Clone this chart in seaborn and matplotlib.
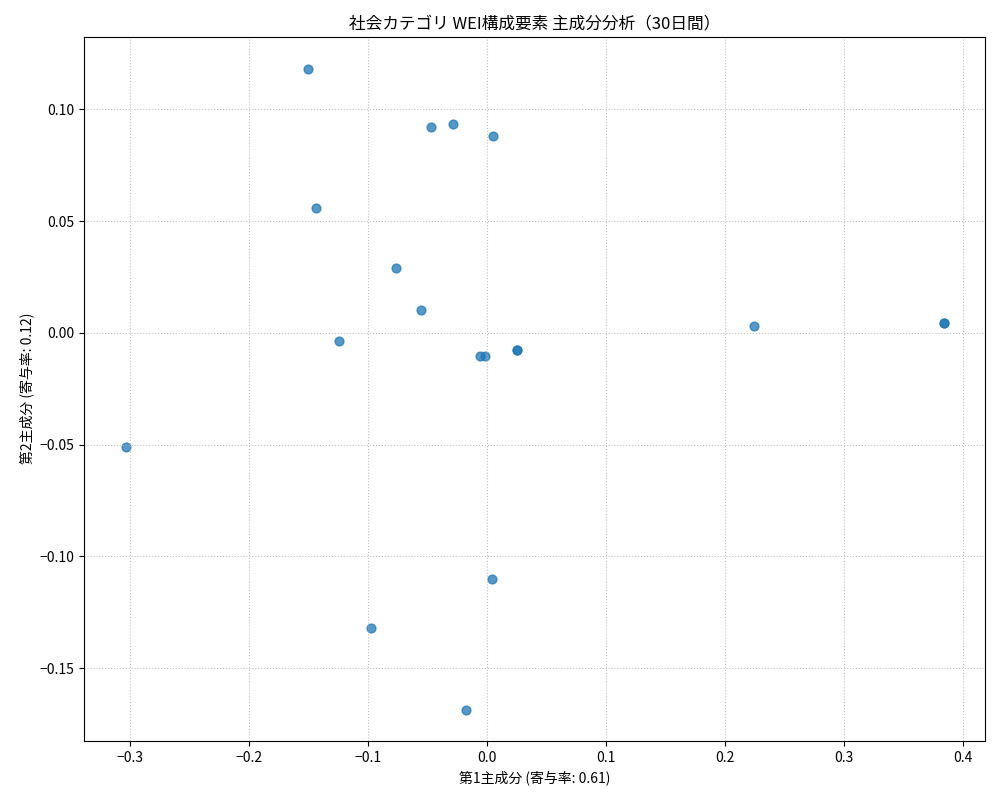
import matplotlib
matplotlib.use("Agg")
import matplotlib.pyplot as plt
import seaborn as sns
import pandas as pd

plt.rcParams['font.family'] = ['Noto Sans CJK JP', 'DejaVu Sans']

# PCA scores
pc1 = [-0.151, -0.047, -0.029, 0.005, -0.144, -0.077, -0.056, -0.125,
       -0.006, -0.002, 0.025, 0.025, 0.224, 0.384, 0.384, -0.304,
       0.004, -0.098, -0.018]
pc2 = [0.118, 0.092, 0.0935, 0.088, 0.056, 0.029, 0.010, -0.0036,
       -0.0103, -0.0103, -0.0077, -0.0077, 0.003, 0.0045, 0.0045, -0.051,
       -0.110, -0.132, -0.1685]

df = pd.DataFrame({'pc1': pc1, 'pc2': pc2})

fig, ax = plt.subplots(figsize=(10, 8), dpi=100)
sns.scatterplot(data=df, x='pc1', y='pc2', ax=ax, color='#1f77b4',
                alpha=0.75, s=40, linewidth=1, edgecolor='#1f77b4')
ax.grid(True, linestyle=':', color='#b0b0b0', alpha=0.8)
ax.set_xlim(-0.339, 0.4185)
ax.set_ylim(-0.1825, 0.1324)
ax.set_title('社会カテゴリ WEI構成要素 主成分分析（30日間）', fontsize=12)
ax.set_xlabel('第1主成分 (寄与率: 0.61)')
ax.set_ylabel('第2主成分 (寄与率: 0.12)')
plt.subplots_adjust(left=0.084, right=0.985, top=0.954, bottom=0.074)
plt.savefig('out.png', dpi=100)
